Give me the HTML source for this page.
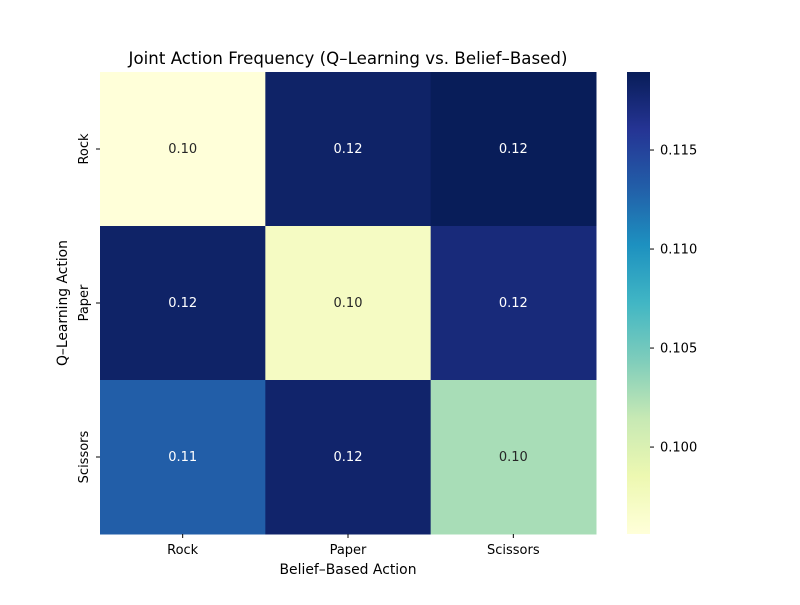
<!DOCTYPE html>
<html><head><meta charset="utf-8"><style>
body{margin:0;background:#fff;font-family:"Liberation Sans","DejaVu Sans",sans-serif;}
svg text{font-family:"DejaVu Sans","Liberation Sans",sans-serif;}
</style></head><body>
<svg id="chart" width="800" height="600">
<text x="348" y="64" font-size="16.6" text-anchor="middle" textLength="439">Joint Action Frequency (Q–Learning vs. Belief–Based)</text>
<g id="cells"></g>
<g id="xticks"></g>
<g id="yticks"></g>
<text x="348" y="574" font-size="13.9" text-anchor="middle" textLength="137">Belief–Based Action</text>
<text x="67" y="303" font-size="13.9" text-anchor="middle" textLength="126" transform="rotate(-90 67 303)">Q–Learning Action</text>
<defs><linearGradient id="cbg" x1="0" y1="1" x2="0" y2="0"></linearGradient></defs>
<rect x="627" y="72" width="23" height="462" fill="url(#cbg)"/>
<g id="cbticks"></g>
</svg>
<script>
const xCategories=["Rock","Paper","Scissors"];
const yCategories=["Rock","Paper","Scissors"];
const rowRock=[0.0956,0.1182,0.1189];
const rowPaper=[0.1182,0.0972,0.1173];
const rowScissors=[0.1131,0.1180,0.1027];
const values=[rowRock,rowPaper,rowScissors];
const vmin=0.09561, vmax=0.11894;
const cbTicks=[0.100,0.105,0.110,0.115];
const stops=["#ffffd9","#edf8b1","#c7e9b4","#7fcdbb","#41b6c4","#1d91c0","#225ea8","#253494","#081d58"];
const NS="http://www.w3.org/2000/svg";
const L=100,T=72,W=496,H=462;
const cw=W/xCategories.length, ch=H/yCategories.length;
function hex(c){return [1,3,5].map(i=>parseInt(c.substr(i,2),16));}
function cmap(t){t=Math.max(0,Math.min(1,t));const p=t*(stops.length-1);const i=Math.min(Math.floor(p),stops.length-2);const f=p-i;const a=hex(stops[i]),b=hex(stops[i+1]);return "rgb("+a.map((v,k)=>Math.round(v+(b[k]-v)*f)).join(",")+")";}
function norm(v){return (v-vmin)/(vmax-vmin);}
function cbY(v){return 534-norm(v)*462;}
function mk(tag,attrs,parent){const e=document.createElementNS(NS,tag);for(const k in attrs)e.setAttribute(k,attrs[k]);parent.appendChild(e);return e;}
const cells=document.getElementById("cells");
values.forEach((row,r)=>row.forEach((v,c)=>{
 const t=norm(v);
 const rect=mk("rect",{x:L+c*cw,y:T+r*ch,width:cw+0.5,height:ch+0.5,fill:cmap(t)},cells);
 
 
 const tx=mk("text",{x:L+c*cw+cw/2,y:T+r*ch+ch/2+4,"font-size":13,"text-anchor":"middle",fill:t>0.5?"#fff":"#262626"},cells);
 tx.textContent=v.toFixed(2);
 
 
}));
const xt=document.getElementById("xticks");
xCategories.forEach((n,i)=>{const x=L+i*cw+cw/2;
 const l=mk("line",{x1:x,x2:x,y1:534,y2:538,stroke:"#000"},xt);
 
 
 const t=mk("text",{x:x,y:554,"font-size":13,"text-anchor":"middle"},xt);t.textContent=n;
 
 });
const yt=document.getElementById("yticks");
yCategories.forEach((n,i)=>{const y=T+i*ch+ch/2;
 const l=mk("line",{x1:96,x2:100,y1:y,y2:y,stroke:"#000"},yt);
 
 
 const t=mk("text",{x:88,y:y,"font-size":13,"text-anchor":"middle",transform:"rotate(-90 88 "+y+")"},yt);t.textContent=n;
 
 });
const g=document.getElementById("cbg");
stops.forEach((s,i)=>mk("stop",{offset:(i/(stops.length-1)*100)+"%","stop-color":s},g));
const cb=document.getElementById("cbticks");
cbTicks.forEach(v=>{const y=cbY(v);
 const l=mk("line",{x1:650,x2:654,y1:y,y2:y,stroke:"#000"},cb);
 
 
 const t=mk("text",{x:660,y:y+4.5,"font-size":13},cb);t.textContent=v.toFixed(3);
 
 });
</script>
</body></html>
